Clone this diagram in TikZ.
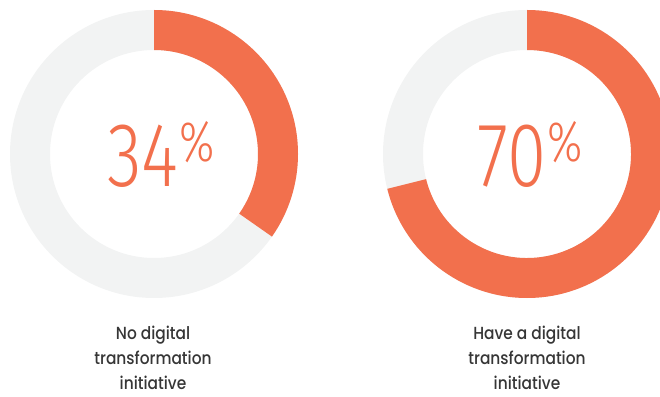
\documentclass[tikz,border=0pt]{standalone}
\usepackage{fontspec}
\usepackage{tikz}
\usetikzlibrary{positioning}
\newfontfamily\numfont[FakeStretch=0.78]{Fira Sans Light}
\newfontfamily\lblfont[FakeStretch=0.88]{Poppins Medium}
\definecolor{accent}{HTML}{F2704D}
\definecolor{ringgrey}{HTML}{F2F3F3}
\definecolor{lbltext}{HTML}{363636}
\tikzstyle{ring} = [fill=ringgrey, even odd rule]
\tikzstyle{slice} = [fill=accent]
\tikzstyle{pct} = [text=accent, inner sep=0pt, font=\numfont\fontsize{91}{91}\selectfont]
\tikzstyle{label} = [text=lbltext, align=center, inner sep=0pt, font=\lblfont\fontsize{17.5}{25}\selectfont]
\newcommand{\pctsign}{\kern1pt\raisebox{25pt}{\fontsize{57}{57}\selectfont\%}}

\begin{document}
\begin{tikzpicture}[x=1pt, y=1pt]
    \clip (0,0) rectangle (660,396);
    \coordinate (none) at (154,242);
    \coordinate (have) at (527,242);
    % Draw rings
    \path [ring] (none) circle (144pt) circle (104pt);
    \path [ring] (have) circle (144pt) circle (104pt);
    \path [slice] ([shift={(90:144pt)}]none) arc[start angle=90, end angle=-35, radius=144pt]
        -- ([shift={(-35:104pt)}]none) arc[start angle=-35, end angle=90, radius=104pt] -- cycle;
    \path [slice] ([shift={(90:144pt)}]have) arc[start angle=90, end angle=-166, radius=144pt]
        -- ([shift={(-166:104pt)}]have) arc[start angle=-166, end angle=90, radius=104pt] -- cycle;
    % Place nodes
    \node [pct] (pctnone) at (161,242) {34\pctsign};
    \node [pct] (pcthave) at (530,242) {70\pctsign};
    \node [label] (lblnone) at (153,38) {No digital\\transformation\\initiative};
    \node [label] (lblhave) at (527,38) {Have a digital\\transformation\\initiative};
\end{tikzpicture}
\end{document}
